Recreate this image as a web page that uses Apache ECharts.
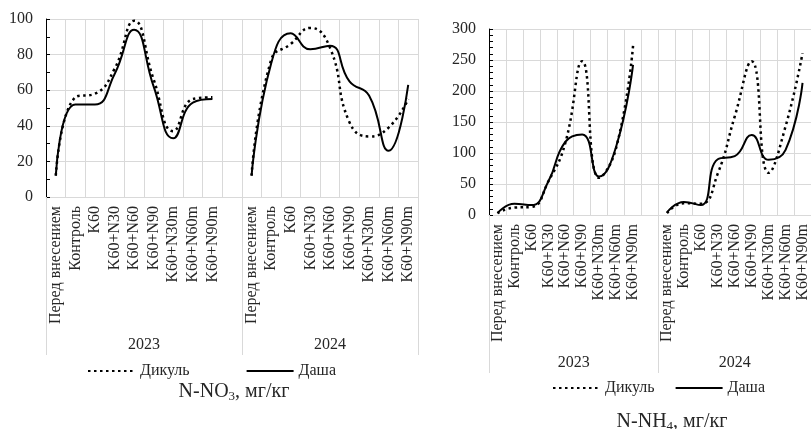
<!DOCTYPE html>
<html>
<head>
<meta charset="utf-8">
<script src="https://cdn.jsdelivr.net/npm/echarts@6/dist/echarts.min.js"></script>
<style>
  html, body { margin: 0; padding: 0; background: #fff; }
  #chart { width: 811px; height: 429px; }
</style>
</head>
<body>
<div id="chart"></div>
<script>
const treatments = ['Перед внесением', 'Контроль', 'K60', 'K60+N30', 'K60+N60', 'K60+N90', 'K60+N30m', 'K60+N60m', 'K60+N90m']
// 2023 block, one empty slot, 2024 block
const categories = [...treatments, '', ...treatments]
const years = ['2023', '2024']

// N-NO3, мг/кг
const no3Dikul = [12, 56, 58, 72, 99, 66, 37, 55, 56, null, 12, 77, 86, 95, 84, 42, 34, 39, 55]
const no3Dasha = [12, 52, 52, 69, 94, 62, 33, 53, 55, null, 12, 75, 92, 83, 85, 65, 57, 26, 63]

// N-NH4, мг/кг
const nh4Dikul = [3, 12, 13, 54, 116, 248, 60, 108, 273, null, 3, 19, 18, 67, 159, 248, 68, 143, 261]
const nh4Dasha = [3, 18, 16, 54, 118, 130, 62, 110, 242, null, 4, 21, 16, 90, 95, 129, 89, 105, 213]

const font = 'Liberation Serif'
const textColor = '#262626'
const gridColor = '#d9d9d9'

function catAxis(gridIndex) {
  return {
    type: 'category',
    gridIndex,
    data: categories,
    boundaryGap: true,
    axisLine: { lineStyle: { color: gridColor } },
    axisTick: { show: false },
    splitLine: { show: true, interval: 0, lineStyle: { color: gridColor } },
    axisLabel: {
      interval: 0,
      rotate: 90,
      margin: 9,
      color: textColor,
      fontFamily: font,
      fontSize: 16
    }
  }
}

function yearAxis(gridIndex, margin, tickLen) {
  return {
    type: 'value',
    gridIndex,
    position: 'bottom',
    min: 0,
    max: categories.length,
    axisLine: { show: false },
    splitLine: { show: false },
    axisTick: {
      show: true,
      customValues: [0, treatments.length + 1, categories.length],
      length: tickLen,
      lineStyle: { color: gridColor }
    },
    axisLabel: {
      customValues: [5, 14.5],
      formatter: (v) => (v < 10 ? years[0] : years[1]),
      margin,
      color: textColor,
      fontFamily: font,
      fontSize: 16
    }
  }
}

function valAxis(gridIndex, max, interval, minorSplit) {
  return {
    type: 'value',
    gridIndex,
    min: 0,
    max,
    interval,
    axisLine: { show: true, lineStyle: { color: '#000' } },
    axisTick: { show: true, inside: true, length: 4, lineStyle: { color: '#000' } },
    minorTick: { show: true, splitNumber: minorSplit, length: 4, lineStyle: { color: '#000' } },
    splitLine: { lineStyle: { color: gridColor } },
    axisLabel: { margin: 13, color: textColor, fontFamily: font, fontSize: 16 }
  }
}

function lineSeries(name, data, idx, dotted) {
  return {
    name,
    type: 'line',
    xAxisIndex: idx,
    yAxisIndex: idx,
    data,
    smooth: 0.5,
    symbol: 'none',
    connectNulls: false,
    lineStyle: dotted
      ? { color: '#000', width: 2.5, type: [2.5, 3.5] }
      : { color: '#000', width: 2 },
    itemStyle: { color: '#000' }
  }
}

const legendBase = {
  data: ['Дикуль', 'Даша'],
  itemWidth: 47,
  itemHeight: 14,
  itemGap: 56,
  itemStyle: { opacity: 0 },
  textStyle: { color: textColor, fontFamily: font, fontSize: 16 }
}

const titleRich = {
  a: { fontFamily: font, fontSize: 20, fontWeight: 'normal', color: textColor },
  s: { fontFamily: font, fontSize: 13, fontWeight: 'normal', color: textColor, padding: [9, 0, 0, 0] }
}

const chart = echarts.init(document.getElementById('chart'))
chart.setOption({
  animation: false,
  title: [
    {
      text: '{a|N-NO}{s|3}{a|, мг/кг}',
      left: 229,
      top: 376,
      textAlign: 'center',
      textStyle: { fontWeight: 'normal', rich: titleRich }
    },
    {
      text: '{a|N-NH}{s|4}{a|, мг/кг}',
      left: 667,
      top: 406,
      textAlign: 'center',
      textStyle: { fontWeight: 'normal', rich: titleRich }
    }
  ],
  legend: [
    Object.assign({}, legendBase, { left: 82, top: 358 }),
    Object.assign({}, legendBase, { left: 547, top: 375, itemGap: 20 })
  ],
  grid: [
    { left: 46, right: 393, top: 19, bottom: 232 },
    { left: 489, right: -9, top: 29, bottom: 214 }
  ],
  xAxis: [catAxis(0), catAxis(1), yearAxis(0, 140, 158), yearAxis(1, 140, 158)],
  yAxis: [valAxis(0, 100, 20, 2), valAxis(1, 300, 50, 5)],
  series: [
    lineSeries('Дикуль', no3Dikul, 0, true),
    lineSeries('Даша', no3Dasha, 0, false),
    lineSeries('Дикуль', nh4Dikul, 1, true),
    lineSeries('Даша', nh4Dasha, 1, false)
  ]
})
</script>
</body>
</html>
